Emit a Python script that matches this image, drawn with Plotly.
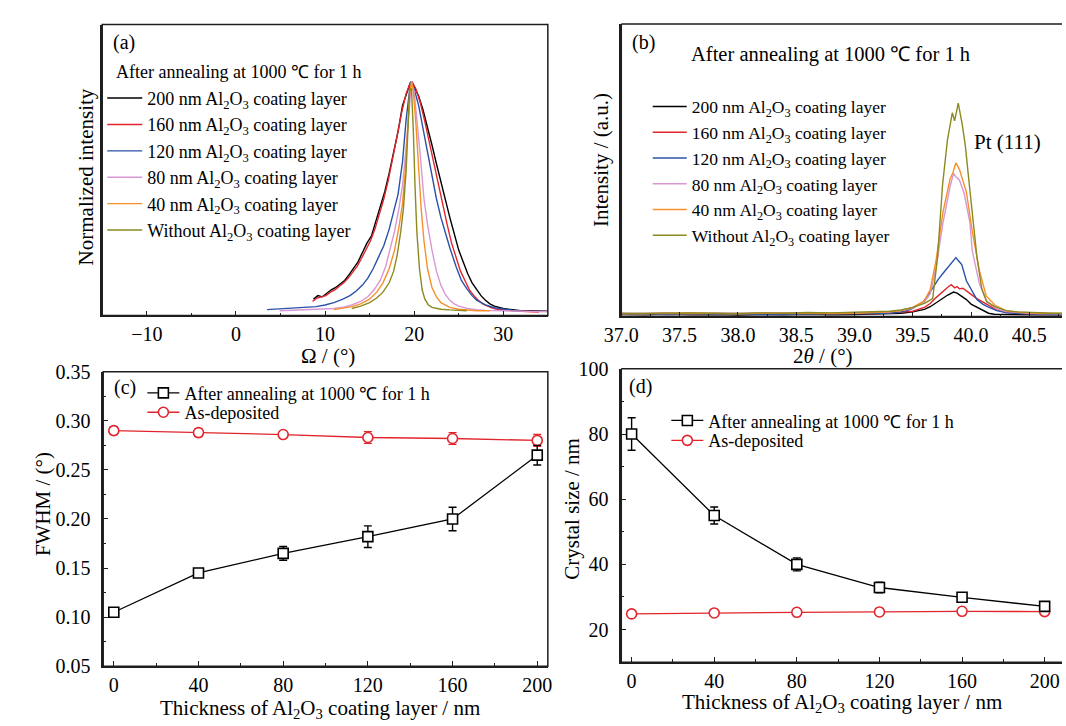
import plotly.graph_objects as go

# ---------------- (a) rocking curves, normalized ----------------
omega_200 = [8.7, 9.2, 9.7, 10.2, 10.7, 11.2, 11.7, 12.2, 12.7, 13.2, 13.7, 14.2, 14.7, 15.2, 15.7,
             16.2, 16.7, 17.2, 17.7, 18.2, 18.7, 19.2, 19.6, 20.0, 20.5, 21.0, 21.5, 22.0, 22.5,
             23.0, 23.5, 24.0, 24.5, 25.0, 25.5, 26.0, 26.5, 27.0, 27.5, 28.0, 28.5, 29.0, 29.5,
             30.0, 31.0, 32.0, 33.0, 34.0, 35.0]
int_200 = [0.07, 0.085, 0.08, 0.095, 0.11, 0.12, 0.135, 0.15, 0.175, 0.20, 0.23, 0.27, 0.31, 0.34,
           0.40, 0.46, 0.53, 0.61, 0.70, 0.79, 0.90, 0.96, 1.00, 0.98, 0.94, 0.88, 0.81, 0.73, 0.65,
           0.57, 0.49, 0.42, 0.35, 0.28, 0.23, 0.18, 0.14, 0.11, 0.085, 0.065, 0.05, 0.04, 0.035,
           0.03, 0.025, 0.02, 0.02, 0.018, 0.018]

omega_160 = [8.6, 9.1, 9.6, 10.1, 10.6, 11.1, 11.6, 12.1, 12.6, 13.1, 13.6, 14.1, 14.6, 15.1, 15.6,
             16.1, 16.6, 17.1, 17.6, 18.1, 18.6, 19.1, 19.5, 19.8, 20.2, 20.7, 21.2, 21.7, 22.2,
             22.7, 23.2, 23.7, 24.2, 24.7, 25.2, 25.7, 26.2, 26.7, 27.2, 27.7, 28.2, 28.7, 29.2,
             30.0, 31.0, 32.0, 33.0, 34.0]
int_160 = [0.06, 0.075, 0.08, 0.085, 0.10, 0.11, 0.125, 0.14, 0.16, 0.185, 0.21, 0.245, 0.28, 0.32,
           0.37, 0.43, 0.50, 0.58, 0.67, 0.77, 0.87, 0.95, 0.99, 1.00, 0.97, 0.91, 0.83, 0.74, 0.65,
           0.56, 0.47, 0.39, 0.31, 0.25, 0.19, 0.15, 0.11, 0.085, 0.065, 0.05, 0.04, 0.033, 0.028,
           0.024, 0.02, 0.018, 0.016, 0.015]

omega_120 = [3.5, 5.0, 6.5, 8.0, 9.0, 10.0, 11.0, 12.0, 12.8, 13.5, 14.2, 14.8, 15.4, 16.0, 16.6,
             17.2, 17.7, 18.2, 18.7, 19.1, 19.6, 20.0, 20.5, 21.0, 21.5, 22.0, 22.5, 23.0, 23.5,
             24.0, 24.7, 25.3, 25.9, 26.5, 27.0, 28.0, 29.0, 30.0, 31.0, 32.0]
int_120 = [0.025, 0.028, 0.03, 0.033, 0.038, 0.045, 0.055, 0.07, 0.085, 0.105, 0.13, 0.16, 0.20,
           0.25, 0.30, 0.37, 0.44, 0.52, 0.66, 0.84, 1.00, 0.97, 0.90, 0.80, 0.70, 0.60, 0.50,
           0.42, 0.35, 0.29, 0.21, 0.15, 0.115, 0.085, 0.066, 0.045, 0.033, 0.027, 0.022, 0.02]

omega_80 = [4.9, 6.0, 8.0, 10.0, 11.0, 12.0, 13.0, 14.0, 14.8, 15.5, 16.2, 16.8, 17.3, 17.8, 18.3,
            18.7, 19.1, 19.5, 19.7, 20.0, 20.3, 20.7, 21.1, 21.5, 22.0, 22.5, 23.0, 23.5, 24.0,
            24.5, 25.0, 26.0, 27.0, 28.0, 30.0, 32.0, 35.0]
int_80 = [0.02, 0.022, 0.025, 0.028, 0.03, 0.035, 0.045, 0.06, 0.08, 0.11, 0.15, 0.21, 0.28, 0.36,
          0.46, 0.56, 0.72, 0.92, 1.00, 0.96, 0.85, 0.68, 0.50, 0.39, 0.28, 0.19, 0.13, 0.09,
          0.065, 0.05, 0.04, 0.03, 0.025, 0.022, 0.02, 0.018, 0.016]

omega_40 = [11.0, 12.0, 13.0, 14.0, 15.0, 15.8, 16.5, 17.2, 17.8, 18.3, 18.7, 19.0, 19.3, 19.5,
            19.7, 19.9, 20.2, 20.5, 20.8, 21.1, 21.5, 22.0, 22.5, 23.0, 24.0, 25.0, 26.0, 27.0, 28.5]
int_40 = [0.025, 0.03, 0.038, 0.05, 0.07, 0.10, 0.14, 0.20, 0.28, 0.38, 0.48, 0.62, 0.82, 0.95,
          1.00, 0.96, 0.82, 0.62, 0.45, 0.32, 0.20, 0.12, 0.08, 0.055, 0.035, 0.027, 0.023, 0.02, 0.02]

omega_0 = [13.0, 14.0, 15.0, 15.8, 16.5, 17.2, 17.7, 18.1, 18.5, 18.8, 19.1, 19.3, 19.5, 19.7,
           19.9, 20.1, 20.3, 20.6, 20.9, 21.2, 21.6, 22.0, 22.5, 23.0, 24.0, 25.0, 25.9]
int_0 = [0.03, 0.04, 0.055, 0.075, 0.10, 0.14, 0.19, 0.26, 0.36, 0.46, 0.62, 0.80, 0.97, 0.97,
         0.80, 0.55, 0.36, 0.20, 0.11, 0.07, 0.045, 0.035, 0.03, 0.027, 0.024, 0.022, 0.02]

# ---------------- (b) Pt(111) diffraction peaks ----------------
base_x = [37.0, 37.2, 37.4, 37.6, 37.8, 38.0, 38.2, 38.4, 38.6, 38.8, 39.0, 39.2]

tt_200 = base_x + [39.3, 39.4, 39.5, 39.6, 39.65, 39.7, 39.75, 39.8, 39.85, 39.88, 39.92, 39.96,
                   40.0, 40.05, 40.1, 40.15, 40.2, 40.3, 40.4, 40.5, 40.6, 40.7, 40.78]
xrd_200 = [6, 5, 7, 5, 6, 4, 6, 5, 7, 5, 6, 7,
           8, 10, 14, 22, 30, 42, 55, 66, 75, 72, 62, 52, 38, 28, 18, 10, 7, 6, 6, 5, 5, 5, 5]

tt_160 = base_x + [39.3, 39.4, 39.5, 39.6, 39.65, 39.7, 39.75, 39.8, 39.83, 39.86, 39.88, 39.9,
                   39.93, 39.96, 40.0, 40.05, 40.1, 40.14, 40.22, 40.3, 40.4, 40.5, 40.6, 40.7, 40.78]
xrd_160 = [9, 8, 10, 7, 9, 8, 10, 9, 8, 9, 10, 9,
           11, 13, 16, 28, 40, 58, 75, 90, 98, 88, 92, 85, 87, 80, 68, 55, 45, 36, 20, 12, 9, 8,
           7, 7, 6]

tt_120 = base_x + [39.3, 39.4, 39.45, 39.5, 39.55, 39.59, 39.63, 39.68, 39.72, 39.76, 39.8, 39.83,
                   39.87, 39.89, 39.92, 39.96, 40.01, 40.05, 40.1, 40.14, 40.22, 40.3, 40.4, 40.5,
                   40.6, 40.7, 40.78]
xrd_120 = [7, 8, 6, 8, 7, 8, 6, 7, 8, 7, 8, 9,
           10, 14, 18, 25, 35, 45, 65, 93, 115, 133, 150, 163, 181, 172, 160, 110, 75, 52, 38,
           30, 18, 12, 9, 8, 7, 7, 6]

tt_80 = base_x + [39.3, 39.4, 39.5, 39.6, 39.65, 39.7, 39.76, 39.82, 39.85, 39.87, 39.9, 39.94,
                  39.96, 39.99, 40.01, 40.07, 40.13, 40.21, 40.3, 40.4, 40.5, 40.6, 40.7, 40.78]
xrd_80 = [10, 9, 11, 10, 9, 10, 11, 10, 9, 10, 11, 12,
          14, 18, 26, 45, 70, 150, 290, 400, 440, 430, 420, 380, 343, 290, 203, 103, 50, 25, 15,
          12, 10, 9, 9, 8]

tt_40 = base_x + [39.3, 39.4, 39.5, 39.6, 39.65, 39.7, 39.76, 39.82, 39.845, 39.87, 39.9, 39.96,
                  40.01, 40.07, 40.13, 40.21, 40.3, 40.4, 40.5, 40.6, 40.7, 40.78]
xrd_40 = [8, 9, 8, 10, 9, 8, 10, 9, 10, 9, 10, 12,
          14, 18, 28, 48, 83, 173, 323, 423, 443, 473, 453, 383, 263, 143, 63, 33, 18, 13, 11,
          10, 10, 9]

tt_0 = base_x + [39.3, 39.4, 39.5, 39.6, 39.671, 39.713, 39.755, 39.797, 39.839, 39.859, 39.89,
                 39.924, 39.952, 39.98, 40.013, 40.05, 40.092, 40.134, 40.204, 40.3, 40.4, 40.5,
                 40.6, 40.7, 40.78]
xrd_0 = [9, 10, 9, 11, 10, 9, 11, 10, 12, 11, 13, 14,
         16, 20, 28, 40, 55, 184, 403, 542, 627, 602, 657, 592, 522, 423, 303, 184, 85, 45, 30,
         18, 14, 12, 11, 10, 10]

# ---------------- (c) FWHM and (d) crystal size ----------------
thickness = [0, 40, 80, 120, 160, 200]
fwhm_annealed = [0.105, 0.145, 0.165, 0.182, 0.200, 0.265]
fwhm_annealed_err = [0.004, 0.004, 0.007, 0.011, 0.012, 0.010]
fwhm_deposited = [0.290, 0.288, 0.286, 0.283, 0.282, 0.280]
fwhm_deposited_err = [0.004, 0.004, 0.003, 0.006, 0.006, 0.006]

size_annealed = [80.0, 55.0, 40.0, 32.9, 29.9, 27.1]
size_annealed_err = [5.0, 2.6, 2.0, 1.6, 1.4, 1.0]
size_deposited = [24.8, 25.1, 25.3, 25.4, 25.6, 25.5]
size_deposited_err = [0.4, 0.4, 0.4, 0.4, 0.4, 0.4]

layer_names = ["200 nm Al<sub>2</sub>O<sub>3</sub> coating layer",
               "160 nm Al<sub>2</sub>O<sub>3</sub> coating layer",
               "120 nm Al<sub>2</sub>O<sub>3</sub> coating layer",
               "80 nm Al<sub>2</sub>O<sub>3</sub> coating layer",
               "40 nm Al<sub>2</sub>O<sub>3</sub> coating layer",
               "Without Al<sub>2</sub>O<sub>3</sub> coating layer"]
layer_colors = ["#000000", "#e2252c", "#2a52a8", "#d898d4", "#f7902a", "#8a8a1e"]
anneal_label = "After annealing at 1000 ℃ for 1 h"
deposit_label = "As-deposited"

SERIF = "Liberation Serif"
W, H = 1066, 726
RED = "#e2252c"
FRAME = "#1e1e1e"


def px_x(x):
    return x / W


def px_y(y):
    return 1 - y / H


fig = go.Figure()

rock_sets = [(omega_200, int_200), (omega_160, int_160), (omega_120, int_120),
             (omega_80, int_80), (omega_40, int_40), (omega_0, int_0)]
for (xs, ys), name, col in zip(rock_sets, layer_names, layer_colors):
    fig.add_trace(go.Scatter(x=xs, y=ys, mode="lines", name=name,
                             line=dict(color=col, width=1.4),
                             xaxis="x", yaxis="y", legend="legend"))

xrd_sets = [(tt_200, xrd_200), (tt_160, xrd_160), (tt_120, xrd_120),
            (tt_80, xrd_80), (tt_40, xrd_40), (tt_0, xrd_0)]
for (xs, ys), name, col in zip(xrd_sets, layer_names, layer_colors):
    fig.add_trace(go.Scatter(x=xs, y=ys, mode="lines", name=name,
                             line=dict(color=col, width=1.4),
                             xaxis="x2", yaxis="y2", legend="legend2"))


def point_series(xs, ys, errs, name, color, symbol, xa, ya, leg):
    return go.Scatter(
        x=xs, y=ys, mode="lines+markers", name=name,
        line=dict(color=color, width=1.3),
        marker=dict(symbol=symbol, size=10, color="white", line=dict(color=color, width=1.6)),
        error_y=dict(type="data", array=errs, visible=True, color=color, thickness=1.4, width=4),
        xaxis=xa, yaxis=ya, legend=leg)


fig.add_trace(point_series(thickness, fwhm_deposited, fwhm_deposited_err, deposit_label, RED,
                           "circle", "x3", "y3", "legend4"))
fig.add_trace(point_series(thickness, fwhm_annealed, fwhm_annealed_err, anneal_label, "black",
                           "square", "x3", "y3", "legend3"))
fig.add_trace(point_series(thickness, size_deposited, size_deposited_err, deposit_label, RED,
                           "circle", "x4", "y4", "legend6"))
fig.add_trace(point_series(thickness, size_annealed, size_annealed_err, anneal_label, "black",
                           "square", "x4", "y4", "legend5"))


def axis(domain, rng, anchor, side, dtick=None, tick0=None, minor=None, fmt=None,
         labels=True, ticks="inside"):
    d = dict(domain=domain, range=rng, anchor=anchor, showline=True, linecolor=FRAME,
             linewidth=1.5, showgrid=False, zeroline=False,
             ticks=ticks, ticklen=5, tickwidth=1.3, tickcolor=FRAME,
             showticklabels=labels, ticklabelstandoff=(0 if side == "x" else 7),
             tickfont=dict(family=SERIF, size=20, color="black"))
    if dtick is not None:
        d.update(dtick=dtick, tick0=tick0 if tick0 is not None else 0)
    if minor is not None:
        d["minor"] = dict(ticks="inside", ticklen=3, tickwidth=1.2, tickcolor=FRAME,
                          dtick=minor, tick0=tick0 if tick0 is not None else 0)
    if fmt:
        d["tickformat"] = fmt
    return d


a_x = [px_x(86), px_x(541)]
a_y = [px_y(314), px_y(14)]
b_x = [px_x(616), 1.0]
b_y = [px_y(315), px_y(13.5)]
c_x = [px_x(87), px_x(541)]
c_y = [px_y(675.7), px_y(372)]
d_x = [px_x(616), 1.0]
d_y = [px_y(671.5), px_y(369)]


def legend_at(x, y, size=18, itemwidth=30):
    return dict(x=px_x(x), y=px_y(y), xanchor="left", yanchor="top", xref="paper", yref="paper",
                bgcolor="rgba(0,0,0,0)", borderwidth=0, tracegroupgap=0, itemwidth=itemwidth,
                font=dict(family=SERIF, size=size, color="black"))


fig.update_layout(
    width=W, height=H, margin=dict(l=0, r=0, t=0, b=0),
    paper_bgcolor="white", plot_bgcolor="white", showlegend=True,
    xaxis=axis(a_x, [-15, 35], "y", "x", dtick=10, tick0=0, minor=5),
    yaxis=axis(a_y, [0, 1.246], "x", "y", labels=False, ticks=""),
    xaxis2=axis(b_x, [37, 40.78], "y2", "x", dtick=0.5, tick0=37, minor=0.25, fmt=".1f"),
    yaxis2=axis(b_y, [0, 900], "x2", "y", labels=False, ticks=""),
    xaxis3=axis(c_x, [-5, 205], "y3", "x", dtick=40, tick0=0, minor=20),
    yaxis3=axis(c_y, [0.05, 0.35], "x3", "y", dtick=0.05, tick0=0.05, minor=0.025, fmt=".2f"),
    xaxis4=axis(d_x, [-5, 208.4], "y4", "x", dtick=40, tick0=0, minor=20),
    yaxis4=axis(d_y, [10, 100], "x4", "y", dtick=20, tick0=0, minor=10),
    legend=legend_at(86, 71, 18, 35),
    legend2=legend_at(643, 80, 17.5, 34),
    legend3=legend_at(127, 375, 18, 32),
    legend4=legend_at(127, 395, 18, 32),
    legend5=legend_at(662, 403.5, 18, 32),
    legend6=legend_at(662, 424, 18, 32),
)

# plot frames: full box for (a) and (c); (b) and (d) run off the right edge
frame_line = dict(color=FRAME, width=1.5)
shapes = []
for xr, yr in [("x", "y"), ("x3", "y3")]:
    shapes.append(dict(type="rect", xref=xr + " domain", yref=yr + " domain",
                       x0=0, x1=1, y0=0, y1=1, line=frame_line, layer="above"))
for xr, yr in [("x2", "y2"), ("x4", "y4")]:
    for x0, y0, x1, y1 in [(0, 0, 1, 0), (0, 1, 1, 1), (0, 0, 0, 1)]:
        shapes.append(dict(type="line", xref=xr + " domain", yref=yr + " domain",
                           x0=x0, y0=y0, x1=x1, y1=y1, line=frame_line, layer="above"))

ann = []


def text(x, y, s, size=20, angle=0, xanchor="center"):
    ann.append(dict(x=px_x(x), y=px_y(y), xref="paper", yref="paper", text=s, showarrow=False,
                    xanchor=xanchor, yanchor="middle", textangle=angle,
                    font=dict(family=SERIF, size=size, color="black")))


text(108, 32, "(a)", 20)
text(98, 63, anneal_label, 18, xanchor="left")
text(639, 32, "(b)", 20)
text(830, 45, anneal_label, 20.5)
text(1010, 135, "Pt (111)", 21)
text(109, 388, "(c)", 20)
text(636, 387, "(d)", 20)

text(317, 356, "Ω / (°)", 21)
text(822, 356, "2<i>θ</i> / (°)", 21)
text(308, 719.5, "Thickness of Al<sub>2</sub>O<sub>3</sub> coating layer / nm", 21)
text(841, 714, "Thickness of Al<sub>2</sub>O<sub>3</sub> coating layer / nm", 21)
text(69, 171, "Normalized intensity", 21, angle=-90)
text(596, 154, "Intensity / (a.u.)", 21, angle=-90)
text(25, 508, "FWHM / (°)", 21, angle=-90)
text(566, 513, "Crystal size / nm", 21, angle=-90)

fig.update_layout(annotations=ann, shapes=shapes)

fig.write_html("out.html")
